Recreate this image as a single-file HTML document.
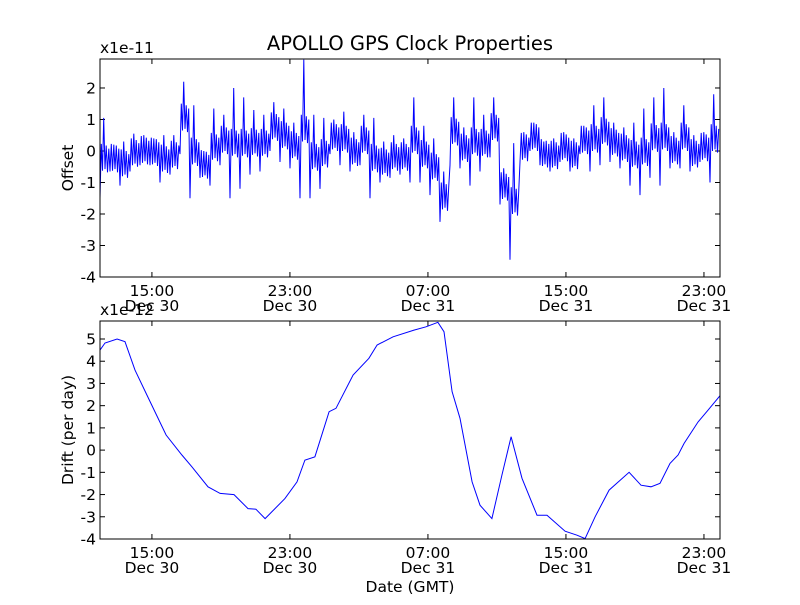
<!DOCTYPE html>
<html><head><meta charset="utf-8"><style>
body{margin:0;background:#fff}
svg text{font-family:"DejaVu Sans","Liberation Sans",sans-serif;fill:#000}
</style></head><body>
<svg id="c" width="800" height="600" viewBox="0 0 800 600" xmlns="http://www.w3.org/2000/svg">
<rect width="800" height="600" fill="#fff"/>
<text x="410" y="50" font-size="19.5" text-anchor="middle">APOLLO GPS Clock Properties</text>
</svg>
<script>
const tStart = 11.99, tEnd = 47.93;
const xTickHours = [15, 23, 31, 39, 47];
const xTickTimes = ["15:00","23:00","07:00","15:00","23:00"];
const xTickDays = ["Dec 30","Dec 30","Dec 31","Dec 31","Dec 31"];
const offTicks = [2,1,0,-1,-2,-3,-4];
const offHi = [1.05,0.2,0.3,0.55,0.5,0.4,0.5,0.5,2.2,1.45,0,1.35,1.15,2.0,1.7,1.3,1.15,1.55,1.35,0.9,2.9,1.15,1.05,1.0,1.25,0.6,1.15,1.05,0.3,0.5,0.4,1.7,0.8,0.4,-0.65,1.7,0.75,1.7,1.15,1.7,-0.55,0.25,0.6,0.9,0.3,0.4,0.6,0.4,0.8,1.45,1.7,0.9,0.75,0.9,1.35,1.7,2.0,0.6,1.45,0.5,0.6,1.8];
const offLo = [-1.5,-0.65,-1.1,-0.65,-0.45,-0.45,-1.0,-0.75,-0.1,-1.5,-0.85,-1.1,-0.45,-1.5,-1.2,-0.75,-0.65,0,-0.35,-0.55,-1.5,-1.5,-1.2,-0.1,-0.45,-0.65,-0.45,-1.5,-1.0,-0.85,-0.75,-1.0,-1.0,-1.4,-2.25,-0.45,-0.55,-1.1,-0.65,-0.2,-1.7,-3.45,-0.35,0,-0.45,-0.65,-0.35,-0.65,-0.1,-0.65,-0.45,-0.35,-0.55,-1.1,-1.4,-0.85,-1.1,-0.55,-0.55,-0.65,-0.35,-1.0];
const driftTicks = [5,4,3,2,1,0,-1,-2,-3,-4];
const driftT = [11.99,12.28,12.98,13.44,14.02,14.71,15.82,16.74,17.32,18.25,18.95,19.76,20.57,21.03,21.56,22.71,23.41,23.87,24.45,25.27,25.67,26.66,27.58,28.05,28.98,30.19,30.89,31.58,31.93,32.40,32.86,33.56,34.02,34.71,35.29,35.82,36.45,37.32,37.90,38.95,39.64,40.11,40.69,41.50,42.66,43.35,43.93,44.45,45.03,45.50,45.85,46.66,47.24,47.93];
const driftV = [4.5,4.82,5.0,4.88,3.6,2.48,0.68,-0.22,-0.75,-1.65,-1.95,-2.0,-2.63,-2.66,-3.08,-2.18,-1.43,-0.45,-0.3,1.73,1.88,3.38,4.13,4.73,5.1,5.4,5.55,5.75,5.33,2.63,1.43,-1.43,-2.48,-3.08,-1.13,0.6,-1.27,-2.93,-2.93,-3.65,-3.83,-3.98,-3.0,-1.8,-1.0,-1.58,-1.65,-1.5,-0.6,-0.22,0.3,1.27,1.8,2.45];

const NS = "http://www.w3.org/2000/svg";
const svg = document.getElementById('c');
function mk(tag, attrs, parent){const e=document.createElementNS(NS,tag);for(const k in attrs)e.setAttribute(k,attrs[k]);(parent||svg).appendChild(e);return e;}
const L = 100, R = 720;
const FS = 15.5;
function xs(t){return L + (t - tStart) / (tEnd - tStart) * (R - L);}

function panel(top, bot, vMin, vMax, ticks, name, ylabel, mult){
  const ys = v => bot - (v - vMin) / (vMax - vMin) * (bot - top);
  const g = mk('g', {});
  
  
  ticks.forEach(v => {
    const y = ys(v);
    const tl = mk('line', {x1:L, x2:L+5, y1:y, y2:y, stroke:'#000'}, g);
    
    
    mk('line', {x1:R-5, x2:R, y1:y, y2:y, stroke:'#000'}, g);
    const t = mk('text', {x:L-4, y:y+5.5, 'font-size':FS, 'text-anchor':'end'}, g);
    t.textContent = v;
    
    
  });
  xTickHours.forEach((h, i) => {
    const x = xs(h);
    const tl = mk('line', {x1:x, x2:x, y1:bot, y2:bot-5, stroke:'#000'}, g);
    
    
    mk('line', {x1:x, x2:x, y1:top, y2:top+5, stroke:'#000'}, g);
    const t1 = mk('text', {x:x, y:bot+19, 'font-size':FS, 'text-anchor':'middle'}, g);
    t1.textContent = xTickTimes[i];
    
    
    const t2 = mk('text', {x:x, y:bot+34, 'font-size':FS, 'text-anchor':'middle'}, g);
    t2.textContent = xTickDays[i];
    
    
  });
  const m = mk('text', {x:L, y:top-6, 'font-size':FS}, g);
  m.textContent = mult;
  
  
  const yl = mk('text', {x:0, y:0, 'font-size':FS, 'text-anchor':'middle', transform:`translate(73 ${(top+bot)/2}) rotate(-90)`}, g);
  yl.textContent = ylabel;
  
  
  return {ys, g};
}

// top panel
const p1 = panel(59, 277, -4, 2.92, offTicks, 'offset', 'Offset', 'x1e-11');
{
  const n = offHi.length, bw = (tEnd - tStart) / n;
  let pts = [];
  for (let i = 0; i < n; i++) {
    const t0 = tStart + i * bw;
    const c = (offHi[i] + offLo[i]) / 2;
    const seq = [offLo[i], c+0.45, c-0.4, offHi[i], c-0.35, c+0.4, c-0.45, c+0.3];
    seq.forEach((v, k) => {
      pts.push(xs(t0 + bw * k / seq.length).toFixed(1) + ',' + p1.ys(v).toFixed(1));
    });
  }
  const cp = mk('clipPath', {id:'cp1'}); mk('rect', {x:L, y:59, width:R-L, height:218}, cp);
  const pl = mk('polyline', {points:pts.join(' '), fill:'none', stroke:'#0000ff', 'stroke-width':1, 'clip-path':'url(#cp1)'}, p1.g);
  
  
}
const f1 = mk('rect', {x:L, y:59, width:R-L, height:218, fill:'none', stroke:'#000'});



// bottom panel
const p2 = panel(321, 539, -4, 5.81, driftTicks, 'drift', 'Drift (per day)', 'x1e-12');
{
  const pts = driftT.map((t, i) => xs(t).toFixed(1) + ',' + p2.ys(driftV[i]).toFixed(1));
  const cp = mk('clipPath', {id:'cp2'}); mk('rect', {x:L, y:321, width:R-L, height:218}, cp);
  const pl = mk('polyline', {points:pts.join(' '), fill:'none', stroke:'#0000ff', 'stroke-width':1, 'clip-path':'url(#cp2)'}, p2.g);
  
  
}
const f2 = mk('rect', {x:L, y:321, width:R-L, height:218, fill:'none', stroke:'#000'});


const xt = mk('text', {x:410, y:592, 'font-size':FS, 'text-anchor':'middle'});
xt.textContent = 'Date (GMT)';


</script>
</body></html>
